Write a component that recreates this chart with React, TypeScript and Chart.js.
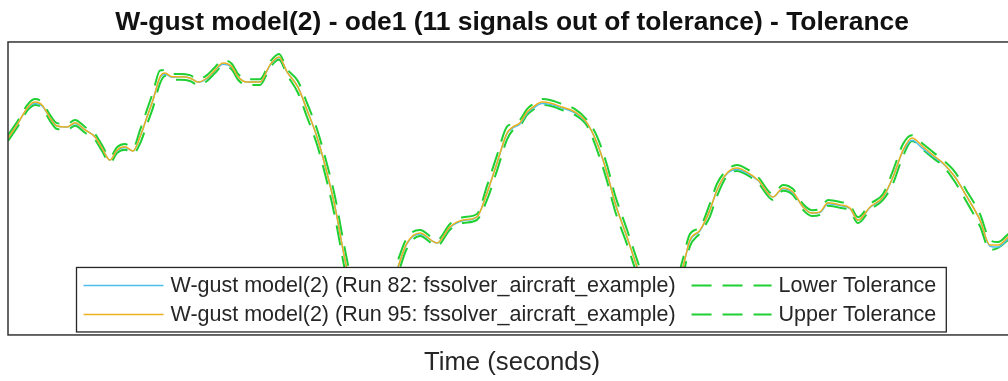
import React, { useEffect, useRef } from 'react';
import { Chart, registerables } from 'chart.js';

Chart.register(...registerables);

const TITLE = 'W-gust model(2) - ode1 (11 signals out of tolerance) - Tolerance';
const X_LABEL = 'Time (seconds)';
const NAME_RUN82 = 'W-gust model(2) (Run 82: fssolver_aircraft_example)';
const NAME_RUN95 = 'W-gust model(2) (Run 95: fssolver_aircraft_example)';
const NAME_LOWER = 'Lower Tolerance';
const NAME_UPPER = 'Upper Tolerance';

const time = [
  0, 0.9, 2.0, 2.7, 3.4, 4.2, 4.9, 5.9, 6.7, 7.7,
  8.7, 9.4, 10.2, 10.9, 11.7, 12.5, 13.2, 13.9, 14.5, 15.2,
  15.7, 16.4, 17.2, 18.2, 19.0, 19.9, 20.7, 21.5, 22.4, 23.0,
  23.9, 25.2, 26.2, 27.1, 27.9, 29.0, 29.9, 30.9, 31.9, 32.7,
  33.7, 34.9, 36.0, 37.2, 38.2, 39.0, 39.9, 41.2, 42.9, 44.2,
  45.5, 46.9, 47.9, 48.9, 49.9, 50.5, 51.2, 51.9, 52.5, 53.4,
  54.2, 55.4, 56.7, 57.9, 58.9, 59.9, 60.7, 61.9, 62.9, 64.0,
  65.2, 66.4, 67.5, 68.2, 69.2, 70.2, 70.9, 71.9, 72.9, 73.9,
  75.0, 76.5, 77.5, 78.5, 79.5, 80.4, 81.2, 82.0, 83.2, 84.2,
  85.0, 86.2, 87.5, 88.5, 89.5, 90.4, 91.5, 92.5, 93.5, 94.7,
  95.9, 97.2, 98.2, 99.0, 100.0, 100.8,
];

const run95 = [
  6.72, 7.17, 7.78, 7.95, 7.85, 7.41, 7.13, 7.10, 7.24, 7.00,
  6.76, 6.38, 5.97, 6.31, 6.42, 6.28, 6.76, 7.44, 8.02, 8.81,
  8.94, 8.81, 8.81, 8.77, 8.63, 8.77, 9.04, 9.28, 9.15, 8.81,
  8.63, 8.63, 9.22, 9.49, 8.98, 8.46, 7.68, 6.76, 5.53, 4.37,
  2.56, 0.78, 0.31, 0.58, 1.54, 2.32, 3.14, 3.48, 3.14, 3.69,
  3.92, 4.03, 4.85, 5.87, 6.89, 7.10, 7.24, 7.61, 7.78, 7.95,
  7.92, 7.78, 7.61, 7.24, 6.55, 5.53, 4.51, 3.34, 2.32, 1.26,
  0.51, 1.02, 2.32, 3.24, 3.58, 4.27, 4.95, 5.53, 5.70, 5.56,
  5.29, 4.71, 5.02, 4.88, 4.37, 4.16, 4.20, 4.51, 4.44, 4.33,
  3.92, 4.37, 4.71, 5.39, 6.31, 6.72, 6.42, 6.14, 5.87, 5.39,
  4.71, 3.92, 3.07, 3.07, 3.34, 3.58,
];

const run82 = [
  6.72, 7.17, 7.76, 7.90, 7.82, 7.41, 7.13, 7.10, 7.22, 7.00,
  6.76, 6.38, 5.97, 6.29, 6.40, 6.28, 6.76, 7.44, 8.02, 8.78,
  8.90, 8.80, 8.81, 8.77, 8.63, 8.75, 9.02, 9.24, 9.13, 8.81,
  8.63, 8.63, 9.20, 9.47, 8.98, 8.46, 7.68, 6.76, 5.53, 4.37,
  2.56, 0.78, 0.31, 0.58, 1.54, 2.32, 3.12, 3.45, 3.14, 3.67,
  3.90, 4.03, 4.85, 5.87, 6.87, 7.07, 7.20, 7.57, 7.73, 7.90,
  7.87, 7.75, 7.58, 7.22, 6.55, 5.53, 4.51, 3.34, 2.32, 1.26,
  0.51, 1.02, 2.32, 3.22, 3.55, 4.27, 4.95, 5.50, 5.65, 5.52,
  5.27, 4.71, 4.99, 4.85, 4.37, 4.16, 4.18, 4.48, 4.42, 4.31,
  3.92, 4.35, 4.69, 5.39, 6.28, 6.65, 6.35, 6.10, 5.85, 5.39,
  4.71, 3.92, 3.03, 3.00, 3.28, 3.54,
];

const lowerTol = [
  6.62, 7.07, 7.68, 7.85, 7.75, 7.31, 7.03, 7.00, 7.14, 6.90,
  6.66, 6.28, 5.87, 6.21, 6.32, 6.18, 6.53, 7.19, 7.76, 8.59,
  8.84, 8.71, 8.71, 8.67, 8.53, 8.67, 8.94, 9.18, 9.05, 8.71,
  8.53, 8.53, 9.12, 9.39, 8.88, 8.26, 7.44, 6.50, 5.23, 4.02,
  2.21, 0.53, 0.21, 0.39, 1.29, 2.08, 2.96, 3.38, 3.04, 3.59,
  3.82, 3.93, 4.61, 5.61, 6.67, 7.00, 7.14, 7.51, 7.68, 7.85,
  7.82, 7.68, 7.51, 7.14, 6.32, 5.26, 4.24, 3.09, 2.07, 1.04,
  0.41, 0.80, 2.03, 3.03, 3.48, 4.05, 4.74, 5.43, 5.60, 5.46,
  5.19, 4.61, 4.92, 4.78, 4.27, 4.06, 4.10, 4.41, 4.34, 4.23,
  3.82, 4.27, 4.61, 5.17, 6.10, 6.62, 6.32, 6.04, 5.77, 5.22,
  4.52, 3.71, 2.90, 2.97, 3.24, 3.48,
];

const upperTol = [
  6.82, 7.27, 7.88, 8.05, 7.95, 7.51, 7.23, 7.20, 7.34, 7.10,
  6.86, 6.48, 6.07, 6.41, 6.52, 6.38, 6.99, 7.69, 8.28, 9.03,
  9.04, 8.91, 8.91, 8.87, 8.73, 8.87, 9.14, 9.38, 9.25, 8.91,
  8.73, 8.73, 9.32, 9.59, 9.08, 8.66, 7.92, 7.02, 5.83, 4.72,
  2.91, 1.03, 0.41, 0.77, 1.79, 2.56, 3.32, 3.58, 3.24, 3.79,
  4.02, 4.13, 5.09, 6.13, 7.11, 7.20, 7.34, 7.71, 7.88, 8.05,
  8.02, 7.88, 7.71, 7.34, 6.78, 5.80, 4.78, 3.59, 2.57, 1.48,
  0.61, 1.24, 2.61, 3.45, 3.68, 4.49, 5.16, 5.63, 5.80, 5.66,
  5.39, 4.81, 5.12, 4.98, 4.47, 4.26, 4.30, 4.61, 4.54, 4.43,
  4.02, 4.47, 4.81, 5.61, 6.52, 6.82, 6.52, 6.24, 5.97, 5.56,
  4.90, 4.13, 3.24, 3.17, 3.44, 3.68,
];

const X_MIN = 0;
const X_MAX = 100.8;
const Y_MIN = 0;
const Y_MAX = 10;

const FONT = '"Liberation Sans", Arial, Helvetica, sans-serif';
const BLUE = '#4DBEEE';
const ORANGE = '#EDB120';
const GREEN = 'rgb(30, 208, 50)';
const TOL_DASH = [20, 11];

const toPoints = (ys: number[]) => time.map((t, i) => ({ x: t, y: ys[i] }));

const framePlugin = {
  id: 'axesFrame',
  afterDatasetsDraw(chart: any) {
    const { ctx, chartArea: a } = chart;
    ctx.save();
    ctx.strokeStyle = '#333333';
    ctx.lineWidth = 1.5;
    ctx.strokeRect(a.left, a.top, a.right - a.left, a.bottom - a.top);
    ctx.restore();
  },
};

const legendPlugin = {
  id: 'insideLegend',
  afterDraw(chart: any) {
    const { ctx, chartArea: a } = chart;
    const ds = chart.data.datasets;
    const rows = [
      [ds[1], ds[3]],
      [ds[0], ds[2]],
    ];
    const fontSize = 21.5;
    ctx.save();
    ctx.font = `${fontSize}px ${FONT}`;
    const boxLeft = a.left + 68.5;
    const boxBottom = a.bottom - 3;
    const rowGap = 29;
    const boxHeight = 64.5;
    const boxTop = boxBottom - boxHeight;
    const sampleLen = 80;
    const padL = 7;
    const textGap = 7;
    const colGap = 16;
    const col1W = Math.max(...rows.map((r) => ctx.measureText(r[0].label).width));
    const col2W = Math.max(...rows.map((r) => ctx.measureText(r[1].label).width));
    const col1X = boxLeft + padL;
    const col2X = col1X + sampleLen + textGap + col1W + colGap;
    const boxRight = col2X + sampleLen + textGap + col2W + 10;

    ctx.fillStyle = '#ffffff';
    ctx.fillRect(boxLeft, boxTop, boxRight - boxLeft, boxHeight);
    ctx.strokeStyle = '#262626';
    ctx.lineWidth = 1.3;
    ctx.strokeRect(boxLeft, boxTop, boxRight - boxLeft, boxHeight);

    const firstRowY = boxTop + 18;
    rows.forEach((r, ri) => {
      const y = firstRowY + ri * rowGap;
      [col1X, col2X].forEach((cx, ci) => {
        const d = r[ci];
        ctx.save();
        ctx.strokeStyle = d.borderColor;
        ctx.lineWidth = d.borderWidth;
        ctx.setLineDash(d.borderDash || []);
        ctx.beginPath();
        ctx.moveTo(cx, y);
        ctx.lineTo(cx + sampleLen, y);
        ctx.stroke();
        ctx.restore();
        ctx.fillStyle = '#262626';
        ctx.textBaseline = 'middle';
        ctx.textAlign = 'left';
        ctx.fillText(d.label, cx + sampleLen + textGap, y + 0.5);
      });
    });
    ctx.restore();
  },
};

export default function App() {
  const canvasRef = useRef<HTMLCanvasElement | null>(null);

  useEffect(() => {
    if (!canvasRef.current) return;
    const chart = new Chart(canvasRef.current, {
      type: 'line',
      data: {
        datasets: [
          {
            label: NAME_RUN95,
            data: toPoints(run95),
            borderColor: ORANGE,
            borderWidth: 1.5,
            pointRadius: 0,
            cubicInterpolationMode: 'monotone',
            fill: false,
          },
          {
            label: NAME_RUN82,
            data: toPoints(run82),
            borderColor: BLUE,
            borderWidth: 1.5,
            pointRadius: 0,
            cubicInterpolationMode: 'monotone',
            fill: false,
          },
          {
            label: NAME_UPPER,
            data: toPoints(upperTol),
            borderColor: GREEN,
            borderWidth: 2,
            borderDash: TOL_DASH,
            pointRadius: 0,
            cubicInterpolationMode: 'monotone',
            fill: false,
          },
          {
            label: NAME_LOWER,
            data: toPoints(lowerTol),
            borderColor: GREEN,
            borderWidth: 2,
            borderDash: TOL_DASH,
            pointRadius: 0,
            cubicInterpolationMode: 'monotone',
            fill: false,
          },
        ],
      },
      options: {
        animation: false,
        responsive: true,
        maintainAspectRatio: false,
        events: [],
        layout: { padding: { left: 8, right: 4, top: 0, bottom: 0 } },
        plugins: {
          legend: { display: false },
          tooltip: { enabled: false },
          title: {
            display: true,
            text: TITLE,
            color: '#111111',
            font: { family: FONT, size: 26.4, weight: 'bold', lineHeight: 1.2 },
            padding: { top: 6.8, bottom: 3.5 },
          },
        },
        scales: {
          x: {
            type: 'linear',
            min: X_MIN,
            max: X_MAX,
            ticks: { display: false },
            grid: { display: false, drawTicks: false },
            border: { display: false },
            title: {
              display: true,
              text: X_LABEL,
              color: '#262626',
              font: { family: FONT, size: 25.7, lineHeight: 1.2 },
              padding: { top: 12.5, bottom: 2.7 },
            },
          },
          y: {
            type: 'linear',
            min: Y_MIN,
            max: Y_MAX,
            display: false,
          },
        },
      },
      plugins: [framePlugin, legendPlugin],
    } as any);
    return () => chart.destroy();
  }, []);

  return (
    <div
      style={{
        position: 'fixed',
        left: 0,
        top: 0,
        width: 1020,
        height: 381,
        background: '#ffffff',
      }}
    >
      <canvas ref={canvasRef} />
    </div>
  );
}
